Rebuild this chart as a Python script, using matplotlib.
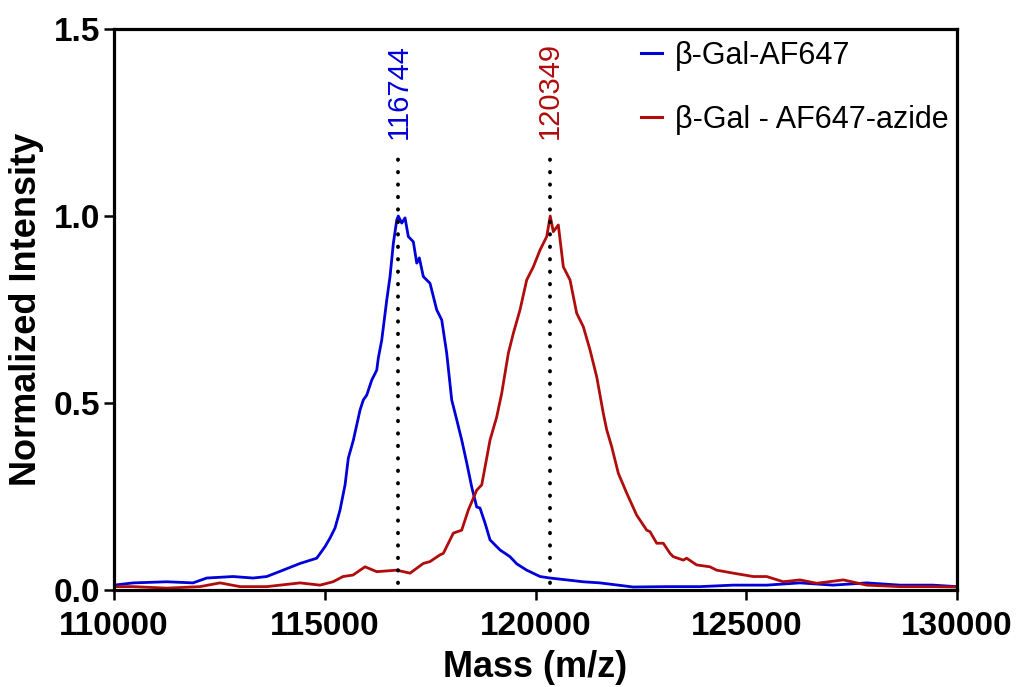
import numpy as np
import matplotlib.pyplot as plt

plt.rcParams["font.family"] = ["Liberation Sans", "DejaVu Sans"]

# values
blue_mass = [110000, 110458, 111250, 111874, 112199, 112823, 113298, 113623, 114010,
             114413, 114809, 115006, 115125, 115244, 115362, 115481, 115559, 115677,
             115836, 115914, 115995, 116114, 116233, 116270, 116351, 116470, 116548,
             116627, 116707, 116744, 116826, 116904, 116982, 117101, 117182, 117243,
             117338, 117497, 117656, 117775, 117893, 118012, 118131, 118249, 118368,
             118487, 118605, 118683, 118802, 118921, 119158, 119395, 119554, 119791,
             119941, 120107, 120344, 120740, 121127, 121530, 122313, 123113, 123908,
             124686, 125485, 126277, 127058, 127858, 128648, 129431, 130000]
blue_int = [0.013, 0.019, 0.022, 0.019, 0.032, 0.036, 0.032, 0.036, 0.053,
            0.071, 0.085, 0.116, 0.139, 0.166, 0.214, 0.281, 0.353, 0.400,
            0.481, 0.508, 0.521, 0.561, 0.588, 0.620, 0.668, 0.775, 0.838,
            0.927, 0.989, 1.000, 0.981, 0.995, 0.945, 0.931, 0.874, 0.888,
            0.838, 0.820, 0.749, 0.722, 0.633, 0.508, 0.455, 0.401, 0.340,
            0.275, 0.222, 0.219, 0.179, 0.134, 0.107, 0.089, 0.070, 0.053,
            0.045, 0.036, 0.032, 0.027, 0.022, 0.019, 0.008, 0.009, 0.009,
            0.013, 0.013, 0.019, 0.013, 0.019, 0.013, 0.013, 0.009]

red_mass = [110000, 110451, 111250, 112040, 112515, 112989, 113623, 114413, 114887,
            115196, 115433, 115670, 115955, 116233, 116707, 117023, 117338, 117497,
            117734, 117813, 118050, 118249, 118406, 118605, 118724, 118921, 119080,
            119198, 119355, 119473, 119632, 119791, 119948, 120107, 120266, 120349,
            120422, 120541, 120660, 120819, 120977, 121134, 121293, 121452, 121609,
            121690, 121808, 121965, 122164, 122401, 122638, 122716, 122875, 123032,
            123191, 123269, 123506, 123586, 123823, 124139, 124298, 124693, 125168,
            125485, 125879, 126277, 126671, 127303, 127858, 128648, 129439, 130000]
red_int = [0.009, 0.009, 0.005, 0.009, 0.019, 0.009, 0.009, 0.019, 0.013,
           0.022, 0.036, 0.040, 0.062, 0.049, 0.053, 0.045, 0.071, 0.076,
           0.094, 0.098, 0.152, 0.160, 0.214, 0.267, 0.281, 0.401, 0.463,
           0.526, 0.633, 0.686, 0.749, 0.829, 0.864, 0.909, 0.945, 1.000,
           0.958, 0.976, 0.864, 0.829, 0.740, 0.704, 0.642, 0.570, 0.472,
           0.428, 0.383, 0.312, 0.259, 0.200, 0.160, 0.156, 0.125, 0.125,
           0.098, 0.089, 0.080, 0.085, 0.067, 0.062, 0.053, 0.045, 0.036,
           0.036, 0.022, 0.027, 0.018, 0.027, 0.013, 0.009, 0.009, 0.008]

peak_masses = [116744, 120349]
series_labels = ["β-Gal-AF647", "β-Gal - AF647-azide"]
x_ticks = [110000, 115000, 120000, 125000, 130000]
y_ticks = [0.0, 0.5, 1.0, 1.5]

blue = "#0000d8"
red = "#b00c0c"


def main():
    fig = plt.figure(figsize=(10.21, 6.87), dpi=100)
    ax = fig.add_axes([0.1117, 0.1412, 0.8256, 0.8166])

    ax.plot(blue_mass, blue_int, color=blue, lw=2.0, label=series_labels[0])
    ax.plot(red_mass, red_int, color=red, lw=2.0, label=series_labels[1])

    # dotted markers at the peak maxima
    for m, c in zip(peak_masses, [blue, red]):
        ax.plot([m, m], [0.02, 1.18], color="black", lw=2.8,
                linestyle=(0, (0.1, 3.1)), dash_capstyle="round")
        ax.text(m, 1.205, str(m), rotation=90, ha="center", va="bottom",
                color=c, fontsize=21,
                bbox=dict(facecolor="white", edgecolor="none", pad=1))

    ax.set_xlim(110000, 130000)
    ax.set_ylim(0, 1.5)
    ax.set_xticks(x_ticks)
    ax.set_yticks(y_ticks)
    ax.set_xticklabels([str(t) for t in x_ticks])
    ax.set_yticklabels([f"{t:.1f}" for t in y_ticks])

    for lab in ax.get_xticklabels() + ax.get_yticklabels():
        lab.set_fontweight("bold")
    ax.tick_params(axis="x", labelsize=24, length=7, width=1.8, pad=8)
    ax.tick_params(axis="y", labelsize=24, length=7, width=1.8, pad=3)

    for s in ax.spines.values():
        s.set_linewidth(2.3)

    ax.set_xlabel("Mass (m/z)", fontsize=26, fontweight="bold", labelpad=6)
    ax.set_ylabel("Normalized Intensity", fontsize=26, fontweight="bold", labelpad=7)

    leg = ax.legend(loc="upper left", bbox_to_anchor=(0.618, 0.99), frameon=False,
                    fontsize=22, handlelength=0.7, handletextpad=0.4,
                    labelspacing=1.12, borderpad=0.2, borderaxespad=0)
    for line in leg.get_lines():
        line.set_linewidth(2.2)

    fig.savefig("out.png", dpi=100)
    plt.close(fig)


if __name__ == "__main__":
    main()
